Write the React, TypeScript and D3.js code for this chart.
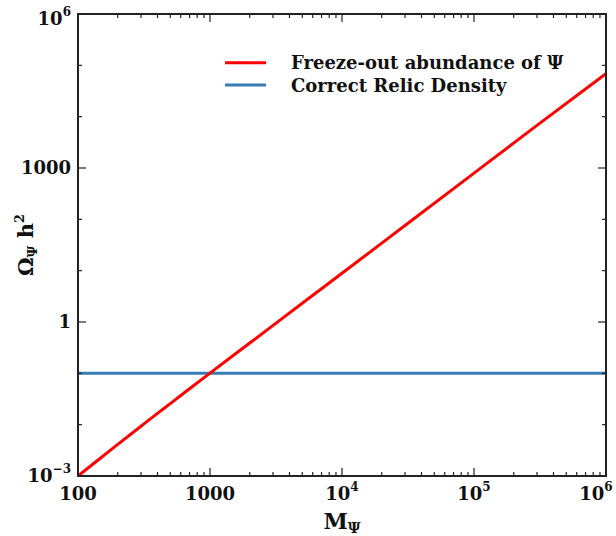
import React from "react";
import * as d3 from "d3";

const massValues = [100, 150, 200, 300, 400, 500, 700, 1000, 2000, 5000, 1e4, 3e4, 1e5, 3e5, 1e6];
const omegaValues = [1e-3, 2.29e-3, 4.12e-3, 9.33e-3, 0.0166, 0.0257, 0.0501, 0.101, 0.389, 2.32, 8.9, 75.9, 794, 6760, 6.9e4];
const relicDensity = 0.1;
const xMajorTicks = [100, 1000, 1e4, 1e5, 1e6];
const xTickLabels: [string, string][] = [["100", ""], ["1000", ""], ["10", "4"], ["10", "5"], ["10", "6"]];
const yMajorTicks = [1e-3, 1, 1000, 1e6];
const yTickLabels: [string, string][] = [["10", "\u22123"], ["1", ""], ["1000", ""], ["10", "6"]];
const yMinorTicks = [1e-2, 1e-1, 10, 100, 1e4, 1e5];
const legendLabels = ["Freeze-out abundance of \u03a8", "Correct Relic Density"];

const W = 616, H = 536;
const L = 78, R = 606, T = 14, B = 476;
const FONT = "'DejaVu Serif', serif";
const AXC = "#222";

export default function App() {
  const x = d3.scaleLog().domain([100, 1e6]).range([L, R]);
  const y = d3.scaleLog().domain([1e-3, 1e6]).range([B, T]);
  const line = d3
    .line<number>()
    .x((_, i) => x(massValues[i]))
    .y((d) => y(d))
    .curve(d3.curveMonotoneX);
  const relicLine = d3.line<number>().x((d) => x(d)).y(() => y(relicDensity));

  const xMinor: number[] = [];
  for (let e = 2; e < 6; e++) for (let k = 2; k <= 9; k++) xMinor.push(k * Math.pow(10, e));

  return (
    <svg width={W} height={H} style={{ position: "absolute", left: 0, top: 0, background: "#fff" }} fontFamily={FONT} fontWeight="bold">
      <rect x={0} y={0} width={W} height={H} fill="#fff" />
      <defs>
        <clipPath id="plot"><rect x={L} y={T} width={R - L} height={B - T} /></clipPath>
      </defs>
      <g clipPath="url(#plot)">
        <path d={relicLine([100, 1e6]) || ""} fill="none" stroke="#377eb8" strokeWidth={3} />
        <path d={line(omegaValues) || ""} fill="none" stroke="#ff0000" strokeWidth={3} strokeLinejoin="round" />
      </g>
      <g stroke={AXC} strokeWidth={1.2}>
        {xMajorTicks.map((t, i) => (
          <g key={"xM" + i}>
            <line x1={x(t)} x2={x(t)} y1={B} y2={B - 8} />
            <line x1={x(t)} x2={x(t)} y1={T} y2={T + 8} />
          </g>
        ))}
        {xMinor.map((t, i) => (
          <g key={"xm" + i}>
            <line x1={x(t)} x2={x(t)} y1={B} y2={B - 4} />
            <line x1={x(t)} x2={x(t)} y1={T} y2={T + 4} />
          </g>
        ))}
        {yMajorTicks.map((t, i) => (
          <g key={"yM" + i}>
            <line x1={L} x2={L + 8} y1={y(t)} y2={y(t)} />
            <line x1={R} x2={R - 8} y1={y(t)} y2={y(t)} />
          </g>
        ))}
        {yMinorTicks.map((t, i) => (
          <g key={"ym" + i}>
            <line x1={L} x2={L + 4} y1={y(t)} y2={y(t)} />
            <line x1={R} x2={R - 4} y1={y(t)} y2={y(t)} />
          </g>
        ))}
      </g>
      <rect x={L} y={T} width={R - L} height={B - T} fill="none" stroke={AXC} strokeWidth={2} />
      {xMajorTicks.map((t, i) => (
        <text key={"xl" + i} x={Math.min(x(t), 596)} y={500} textAnchor="middle" fontSize={18} fill="#111">
          {xTickLabels[i][0]}
          {xTickLabels[i][1] && <tspan fontSize={12} dy={-9}>{xTickLabels[i][1]}</tspan>}
        </text>
      ))}
      {yMajorTicks.map((t, i) => (
        <text key={"yl" + i} x={71} y={Math.max(y(t) + 6, 25)} textAnchor="end" fontSize={18} fill="#111">
          {yTickLabels[i][0]}
          {yTickLabels[i][1] && <tspan fontSize={12} dy={-9}>{yTickLabels[i][1]}</tspan>}
        </text>
      ))}
      <text x={(L + R) / 2} y={529} textAnchor="middle" fontSize={22} fill="#111">
        M<tspan fontSize={14} dy={4}>{"\u03a8"}</tspan>
      </text>
      <text transform={`translate(33,${(T + B) / 2}) rotate(-90)`} textAnchor="middle" fontSize={21} fill="#111">
        {"\u03a9"}<tspan fontSize={13} dy={4}>{"\u03a8"}</tspan><tspan dy={-4}>{" h"}</tspan><tspan fontSize={13} dy={-9}>2</tspan>
      </text>
      <g>
        <line x1={225} x2={266} y1={62.7} y2={62.7} stroke="#ff0000" strokeWidth={3} />
        <line x1={225} x2={266} y1={85} y2={85} stroke="#377eb8" strokeWidth={3} />
        <text x={291} y={69} fontSize={18} fill="#111">{legendLabels[0]}</text>
        <text x={291} y={91.5} fontSize={18} fill="#111">{legendLabels[1]}</text>
      </g>
    </svg>
  );
}
